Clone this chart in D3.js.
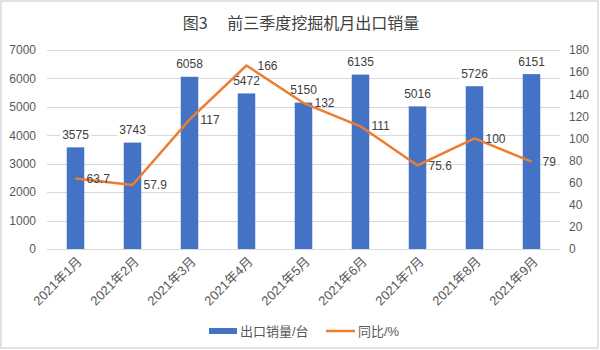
<!DOCTYPE html>
<html><head><meta charset="utf-8">
<script src="https://cdn.jsdelivr.net/npm/d3@7"></script>
<style>
html,body{margin:0;padding:0;background:#fff;}
svg{display:block;}
</style></head>
<body>
<svg id="chart" width="600" height="350"></svg>
<script>
const categories = ["2021年1月","2021年2月","2021年3月","2021年4月","2021年5月","2021年6月","2021年7月","2021年8月","2021年9月"];
const exportSales = [3575, 3743, 6058, 5472, 5150, 6135, 5016, 5726, 6151];
const yoy = [63.7, 57.9, 117, 166, 132, 111, 75.6, 100, 79];
const leftTicks = [0,1000,2000,3000,4000,5000,6000,7000];
const rightTicks = [0,20,40,60,80,100,120,140,160,180];
const title = "图3\u3000 前三季度挖掘机月出口销量";
const seriesNames = ["出口销量/台", "同比/%"];

const svg = d3.select("#chart");
const W = 600, H = 350;
const plot = {left: 47, right: 560, top: 50, bottom: 249};
const numFont = "'Liberation Sans', 'Noto Sans CJK SC', sans-serif";
const cjkFont = "'Liberation Sans', 'Noto Sans CJK SC', sans-serif";

svg.append("rect").attr("x",1).attr("y",1).attr("width",597).attr("height",347)
  .attr("fill","#fff").attr("stroke","#d9d9d9").attr("stroke-width",1.5);

const x = d3.scaleBand().domain(categories).range([plot.left, plot.right])
  .paddingInner(0.693).paddingOuter(0.693/2);
const yL = d3.scaleLinear().domain([0,7000]).range([plot.bottom, plot.top]);
const yR = d3.scaleLinear().domain([0,180]).range([plot.bottom, plot.top]);

// gridlines
svg.append("g").selectAll("line").data(leftTicks).join("line")
  .attr("x1", plot.left).attr("x2", plot.right)
  .attr("y1", d => Math.round(yL(d))+0.5).attr("y2", d => Math.round(yL(d))+0.5)
  .attr("stroke", "#d9d9d9").attr("stroke-width", 1);

// left axis
const axL = d3.axisLeft(yL).tickValues(leftTicks).tickSize(0).tickPadding(0).tickFormat(d3.format("d"));
const gL = svg.append("g").attr("transform", "translate(36,0)").call(axL);
gL.select(".domain").remove();
gL.selectAll("text").attr("font-family", numFont).attr("font-size", 12).attr("fill", "#595959");

// right axis
const axR = d3.axisRight(yR).tickValues(rightTicks).tickSize(0).tickPadding(0).tickFormat(d3.format("d"));
const gR = svg.append("g").attr("transform", "translate(569,0)").call(axR);
gR.select(".domain").remove();
gR.selectAll("text").attr("font-family", numFont).attr("font-size", 12).attr("fill", "#595959");

// x axis labels
const axX = d3.axisBottom(x).tickSize(0).tickPadding(0);
const gX = svg.append("g").attr("transform", `translate(0,${plot.bottom})`).call(axX);
gX.select(".domain").remove();
gX.selectAll(".tick text")
  .attr("font-family", cjkFont).attr("font-size", 13).attr("fill", "#595959")
  .attr("text-anchor", "end")
  .attr("dy", "0.35em")
  .attr("transform", "translate(4,10) rotate(-45)");

// bars
svg.append("g").selectAll("rect").data(exportSales).join("rect")
  .attr("x", (d,i) => x(categories[i]))
  .attr("width", x.bandwidth())
  .attr("y", d => yL(d))
  .attr("height", d => plot.bottom - yL(d))
  .attr("fill", "#4472C4");

// bar labels with white background
const bl = svg.append("g").selectAll("g").data(exportSales).join("g")
  .attr("transform", (d,i) => `translate(${x(categories[i]) + x.bandwidth()/2},${yL(d) - 12.5})`);
bl.append("rect").attr("x", -15).attr("y", -6).attr("width", 30).attr("height", 12).attr("fill", "#fff");
bl.append("text").text(d => d).attr("text-anchor", "middle").attr("dy", "0.35em")
  .attr("font-family", numFont).attr("font-size", 12).attr("fill", "#404040");

// line
const line = d3.line().x((d,i) => x(categories[i]) + x.bandwidth()/2).y(d => yR(d));
svg.append("path").datum(yoy).attr("d", line).attr("fill", "none")
  .attr("stroke", "#ED7D31").attr("stroke-width", 2.5).attr("stroke-linejoin", "round");

// line labels
svg.append("g").selectAll("text").data(yoy).join("text")
  .attr("x", (d,i) => x(categories[i]) + x.bandwidth()/2 + 11)
  .attr("y", d => yR(d)).attr("dy", "0.35em")
  .text(d => d)
  .attr("font-family", numFont).attr("font-size", 12).attr("fill", "#404040");

// title
svg.append("text").attr("x", 301).attr("y", 23).attr("dy", "0.35em").attr("text-anchor", "middle")
  .attr("font-family", "'Noto Sans CJK SC', sans-serif").attr("font-size", 16).attr("fill", "#404040")
  .text(title);

// legend
const lg = svg.append("g");
lg.append("rect").attr("x", 209).attr("y", 328).attr("width", 28).attr("height", 6).attr("fill", "#4472C4");
lg.append("text").attr("x", 240).attr("y", 331).attr("dy", "0.35em").text(seriesNames[0])
  .attr("font-family", cjkFont).attr("font-size", 13).attr("fill", "#595959");
lg.append("line").attr("x1", 326).attr("x2", 355).attr("y1", 331).attr("y2", 331)
  .attr("stroke", "#ED7D31").attr("stroke-width", 2.5);
lg.append("text").attr("x", 358).attr("y", 331).attr("dy", "0.35em").text(seriesNames[1])
  .attr("font-family", cjkFont).attr("font-size", 13).attr("fill", "#595959");
</script>
</body></html>
